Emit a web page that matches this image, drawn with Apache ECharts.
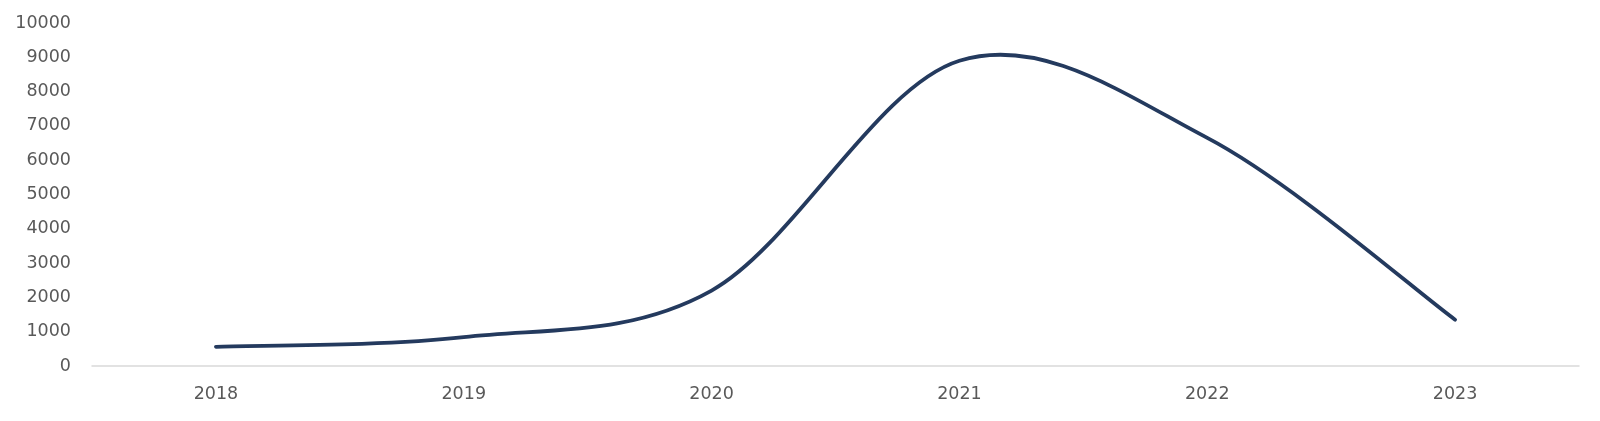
<!DOCTYPE html>
<html>
<head>
<meta charset="utf-8">
<script src="https://cdn.jsdelivr.net/npm/echarts@6/dist/echarts.min.js"></script>
<style>html,body{margin:0;padding:0;background:#fff;}#c{width:1600px;height:421px;}</style>
</head>
<body>
<div id="c"></div>
<script>
const categories = ['2018', '2019', '2020', '2021', '2022', '2023'];
const values = [560, 840, 2200, 8900, 6650, 1350];
const yTicks = { min: 0, max: 10000, interval: 1000 };

const seriesData = values.map((v, i) => [i, v]);

function renderSmooth(params, api) {
  if (params.dataIndex !== 0) return null;
  const pts = seriesData.map(d => api.coord(d));
  const n = pts.length;
  const P = i => pts[Math.max(0, Math.min(n - 1, i))];
  let d = 'M' + pts[0][0] + ' ' + pts[0][1];
  for (let i = 0; i < n - 1; i++) {
    const p0 = P(i - 1), p1 = P(i), p2 = P(i + 1), p3 = P(i + 2);
    const c1x = p1[0] + (p2[0] - p0[0]) / 6, c1y = p1[1] + (p2[1] - p0[1]) / 6;
    const c2x = p2[0] - (p3[0] - p1[0]) / 6, c2y = p2[1] - (p3[1] - p1[1]) / 6;
    d += ' C' + c1x + ' ' + c1y + ' ' + c2x + ' ' + c2y + ' ' + p2[0] + ' ' + p2[1];
  }
  return {
    type: 'path',
    shape: { pathData: d },
    style: { fill: null, stroke: '#243a5e', lineWidth: 3.8, lineCap: 'round', lineJoin: 'round' },
    silent: true
  };
}

const chart = echarts.init(document.getElementById('c'), null, { renderer: 'canvas' });
chart.setOption({
  animation: false,
  backgroundColor: '#ffffff',
  grid: { left: 92, right: 21, top: 23, bottom: 55, containLabel: false },
  xAxis: {
    type: 'category',
    data: categories,
    boundaryGap: true,
    axisLine: { show: true, lineStyle: { color: '#d9d9d9', width: 1.5 } },
    axisTick: { show: false },
    axisLabel: { color: '#595959', fontSize: 17.5, fontFamily: 'DejaVu Sans', margin: 19 },
    splitLine: { show: false }
  },
  yAxis: {
    type: 'value',
    min: yTicks.min, max: yTicks.max, interval: yTicks.interval,
    axisLine: { show: false },
    axisTick: { show: false },
    axisLabel: { color: '#595959', fontSize: 17.5, fontFamily: 'DejaVu Sans', margin: 21, formatter: v => String(v) },
    splitLine: { show: false }
  },
  series: [{
    type: 'custom',
    data: seriesData,
    encode: { x: 0, y: 1 },
    renderItem: renderSmooth,
    clip: false
  }]
});
</script>
</body>
</html>
